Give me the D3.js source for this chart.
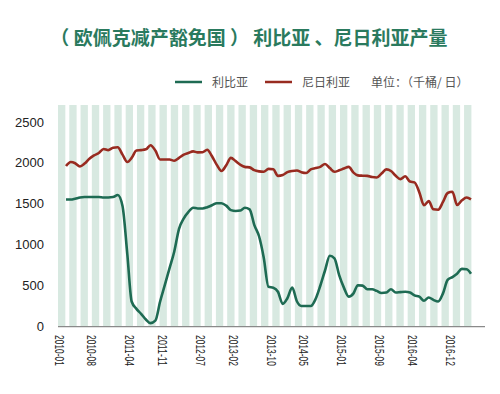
<!DOCTYPE html>
<html><head><meta charset="utf-8">
<script src="https://cdn.jsdelivr.net/npm/d3@7"></script>
<style>
html,body{margin:0;padding:0;background:#fff;}
svg{display:block;}
</style></head>
<body>
<svg id="chart" width="500" height="394"></svg>
<script>
const title = "（ 欧佩克减产豁免国 ） 利比亚 、尼日利亚产量";
const seriesNames = ["利比亚", "尼日利亚"];
const unitLabel = "单位：（千桶/ 日）";
const startMonth = "2010-01";
const libya = [1550,1550,1560,1575,1580,1580,1580,1580,1575,1575,1580,1605,1470,880,300,210,150,80,35,65,
  300,500,710,910,1190,1320,1395,1450,1440,1440,1455,1480,1505,1505,1475,1420,1410,1415,1450,1430,
  1240,1100,840,480,470,420,270,340,470,300,245,245,245,330,490,680,860,830,620,470,
  360,400,500,495,450,450,430,405,410,450,410,415,420,410,375,360,310,350,320,300,
  400,565,600,640,700,695,640];
const nigeria = [1960,2010,1995,1955,1990,2050,2090,2120,2170,2155,2185,2190,2100,2010,2060,2150,2155,2165,2215,2150,
  2040,2040,2040,2025,2060,2100,2120,2140,2128,2130,2160,2080,1975,1900,1970,2060,2020,1975,1950,1944,
  1910,1895,1890,1925,1920,1840,1850,1885,1900,1905,1885,1875,1920,1935,1950,1985,1935,1890,1908,1930,
  1950,1880,1846,1842,1840,1825,1820,1868,1920,1900,1840,1800,1835,1770,1760,1640,1480,1530,1430,1425,
  1520,1630,1645,1483,1540,1575,1553];
const tickLabels = ["2010-01","2010-08","2011-04","2011-11","2012-07","2013-02","2013-10","2014-05","2015-01","2015-09","2016-04","2016-12"];
const yTicks = [0,500,1000,1500,2000,2500];
const stripeCount = 37;

const parse = d3.timeParse("%Y-%m");
const t0 = parse(startMonth);
const dates = libya.map((_, i) => d3.timeMonth.offset(t0, i));

const svg = d3.select("#chart");
const x = d3.scaleTime().domain([dates[0], dates[dates.length-1]]).range([66, 471]);
const y = d3.scaleLinear().domain([0, 2500]).range([326, 122]);

// title
svg.append("text").attr("x", 249).attr("y", 45).attr("text-anchor", "middle")
  .attr("font-family", "'Noto Sans CJK SC'").attr("font-weight", "bold")
  .attr("font-size", 19).attr("fill", "#2a7a5e").text(title);

// legend
const colors = ["#1e6b53", "#982b20"];
const leg = svg.append("g").attr("font-family", "'Noto Sans CJK SC'").attr("font-size", 12).attr("fill", "#555");
const legX = [175, 265];
seriesNames.forEach((n, i) => {
  leg.append("line").attr("x1", legX[i]).attr("x2", legX[i] + 27).attr("y1", 82).attr("y2", 82)
    .attr("stroke", colors[i]).attr("stroke-width", 2.5);
  leg.append("text").attr("x", legX[i] + 37).attr("y", 86.5).text(n);
});
leg.append("text").attr("x", 371).attr("y", 86.5).text(unitLabel);

// stripes
const band = d3.scaleBand().domain(d3.range(stripeCount)).range([58, 471.4]).paddingInner(0.35).paddingOuter(0);
svg.append("g").selectAll("rect").data(d3.range(stripeCount)).join("rect")
  .attr("x", d => band(d)).attr("width", band.bandwidth())
  .attr("y", 105).attr("height", y(0) - 105).attr("fill", "#d8e9e1");

// y axis labels
svg.append("g").selectAll("text").data(yTicks).join("text")
  .attr("x", 44).attr("y", d => y(d)).attr("dy", "0.35em").attr("text-anchor", "end")
  .attr("font-family", "'Liberation Sans', Arial, sans-serif").attr("font-size", 13).attr("fill", "#222")
  .text(d => d);

// x axis line
svg.append("line").attr("x1", 58).attr("x2", 485).attr("y1", y(0) + 0.7).attr("y2", y(0) + 0.7)
  .attr("stroke", "#8a8a8a").attr("stroke-width", 1.2);

// x labels
svg.append("g").selectAll("text").data(tickLabels).join("text")
  .attr("transform", d => `translate(${x(parse(d)) - 7},335) rotate(90)`)
  .attr("dy", "0.35em").attr("text-anchor", "start")
  .attr("font-family", "'Liberation Sans', Arial, sans-serif").attr("font-size", 12.5).attr("fill", "#222")
  .attr("textLength", 31).attr("lengthAdjust", "spacingAndGlyphs")
  .text(d => d);

// lines
const line = d3.line().x((d, i) => x(dates[i])).y(d => y(d)).curve(d3.curveMonotoneX);
[libya, nigeria].forEach((s, i) => {
  svg.append("path").datum(s).attr("d", line).attr("fill", "none")
    .attr("stroke", colors[i]).attr("stroke-width", 2.6).attr("stroke-linejoin", "round");
});
</script>
</body></html>
